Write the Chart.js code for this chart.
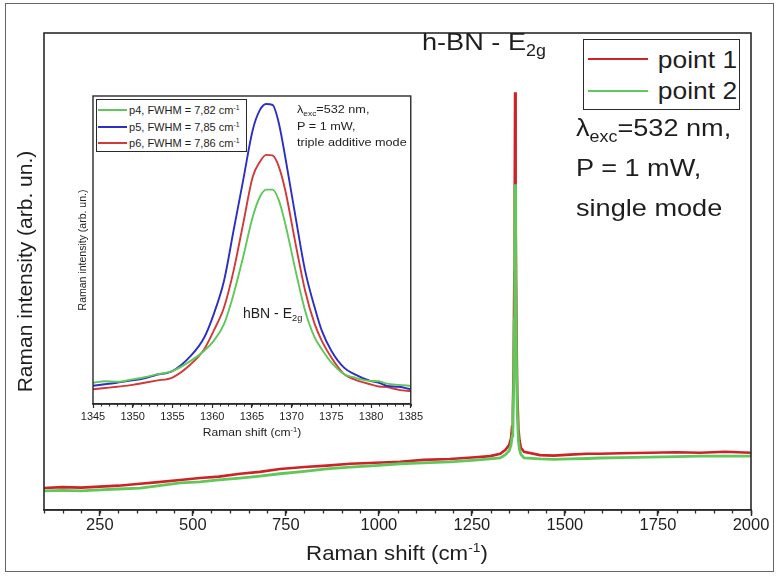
<!DOCTYPE html>
<html>
<head>
<meta charset="utf-8">
<script src="https://cdn.jsdelivr.net/npm/chart.js@4.4.1/dist/chart.umd.min.js"></script>
<style>
  html, body { margin: 0; padding: 0; background: #fff; }
  #wrap { position: relative; width: 779px; height: 576px; background: #fff; overflow: hidden;
          font-family: "Liberation Sans", Arial, sans-serif; color: #1e1e1e; }
  #outer { position: absolute; left: 5px; top: 3px; width: 769px; height: 569px;
           border: 1px solid #666; box-sizing: border-box; }
  canvas { position: absolute; }
  .t { position: absolute; white-space: nowrap; line-height: 1; transform-origin: left center; }
  .t sub { font-size: 0.66em; vertical-align: -0.35em; line-height: 0; }
  .t sup { font-size: 0.62em; vertical-align: 0.6em; line-height: 0; }
  .box { position: absolute; border: 1.5px solid #2a2a2a; box-sizing: border-box; background: #fff; }
  .ln { position: absolute; height: 2px; }
</style>
</head>
<body>
<div id="wrap">
  <div id="outer"></div>
  <canvas id="main" width="779" height="576" style="left:0;top:0"></canvas>
  <canvas id="inset" width="370" height="362" style="left:55px;top:88px"></canvas>

  <!-- main chart texts -->
  <div class="t" style="left:422px;top:30px;font-size:24px;transform:scaleX(1.13)">h-BN - E<sub>2g</sub></div>
  <div class="box" style="left:583px;top:39px;width:157px;height:71px"></div>
  <div class="ln" style="left:588px;top:58px;width:60px;background:#cf2228"></div>
  <div class="ln" style="left:588px;top:90px;width:60px;background:#5ec85a"></div>
  <div class="t" style="right:42px;top:48px;font-size:24px;transform-origin:right center;transform:scaleX(1.1)">point 1</div>
  <div class="t" style="right:42px;top:79px;font-size:24px;transform-origin:right center;transform:scaleX(1.1)">point 2</div>
  <div class="t" style="left:576px;top:116px;font-size:24px;transform:scaleX(1.13)">&lambda;<sub>exc</sub>=532 nm,</div>
  <div class="t" style="left:576px;top:156px;font-size:24px;transform:scaleX(1.13)">P = 1 mW,</div>
  <div class="t" style="left:576px;top:196px;font-size:24px;transform:scaleX(1.13)">single mode</div>
  <div class="t" style="left:197px;width:400px;text-align:center;top:542px;font-size:21px;transform-origin:center center;transform:scaleX(1.06)">Raman shift (cm<sup>-1</sup>)</div>

  <!-- inset texts -->
  <div class="box" style="left:96px;top:99px;width:151px;height:53px;border-width:1.3px"></div>
  <div class="ln" style="left:98px;top:109px;width:29px;background:#5ec85a"></div>
  <div class="ln" style="left:98px;top:126px;width:29px;background:#2b2fc4"></div>
  <div class="ln" style="left:98px;top:142px;width:29px;background:#d23a3a"></div>
  <div class="t" style="left:129px;top:105px;font-size:10.5px;transform:scaleX(1.05)">p4, FWHM = 7,82 cm<sup>-1</sup></div>
  <div class="t" style="left:129px;top:122px;font-size:10.5px;transform:scaleX(1.05)">p5, FWHM = 7,85 cm<sup>-1</sup></div>
  <div class="t" style="left:129px;top:138px;font-size:10.5px;transform:scaleX(1.05)">p6, FWHM = 7,86 cm<sup>-1</sup></div>
  <div class="t" style="left:297px;top:104px;font-size:11.5px;transform:scaleX(1.1)">&lambda;<sub>exc</sub>=532 nm,</div>
  <div class="t" style="left:297px;top:121px;font-size:11.5px;transform:scaleX(1.1)">P = 1 mW,</div>
  <div class="t" style="left:297px;top:137px;font-size:11.5px;transform:scaleX(1.1)">triple additive mode</div>
  <div class="t" style="left:243px;top:306px;font-size:14px">hBN - E<sub>2g</sub></div>
  <div class="t" style="left:152px;width:200px;text-align:center;top:427px;font-size:11.5px;transform-origin:center center;transform:scaleX(1.05)">Raman shift (cm<sup>-1</sup>)</div>
</div>

<script>
// ---- main spectra (single mode) ----
const mainShift = [100, 150, 200, 250, 300, 358, 400, 466, 519, 570, 627, 680, 734, 800, 860, 923, 990,
  1057, 1120, 1191, 1250, 1299, 1326, 1340, 1350, 1355, 1358, 1360, 1362, 1364, 1365, 1366, 1367, 1368,
  1370, 1372, 1375, 1378, 1382, 1390, 1433, 1470, 1514, 1560, 1595, 1650, 1729, 1800, 1863, 1930, 2000];
const point1 = [4.6, 4.8, 4.7, 4.9, 5.1, 5.5, 5.8, 6.3, 6.7, 7.0, 7.6, 8.0, 8.6, 9.0, 9.3, 9.7, 9.9,
  10.1, 10.5, 10.7, 11.0, 11.3, 11.8, 12.6, 13.6, 15.0, 17.5, 21.0, 30.0, 50.0, 66.0, 87.6, 80.0, 62.0,
  36.0, 24.0, 17.0, 14.5, 13.0, 12.2, 11.5, 11.4, 11.6, 11.8, 11.8, 11.9, 12.0, 12.1, 12.0, 12.2, 12.0];
const point2 = [4.0, 4.1, 4.0, 4.2, 4.4, 4.6, 5.0, 5.7, 5.9, 6.3, 6.7, 7.1, 7.6, 8.1, 8.6, 9.0, 9.3,
  9.7, 9.9, 10.1, 10.4, 10.7, 10.9, 11.6, 12.4, 13.6, 15.5, 18.5, 25.0, 40.0, 52.0, 68.3, 62.0, 48.0,
  29.0, 20.0, 14.5, 12.6, 11.6, 10.9, 10.7, 10.6, 10.7, 10.8, 10.9, 11.0, 11.1, 11.2, 11.3, 11.3, 11.3];
const mainTicks = [250, 500, 750, 1000, 1250, 1500, 1750, 2000];

// ---- inset spectra (triple additive mode) ----
const insetShift = [1345, 1346.5, 1348, 1350, 1351.5, 1353, 1355, 1357.3, 1359, 1360.2, 1361.5, 1362.7,
  1363.9, 1365.1, 1366, 1366.8, 1367.6, 1368.4, 1369.2, 1370.5, 1371.7, 1372.9, 1373.8, 1375, 1376.6,
  1377.9, 1379.9, 1381, 1382, 1383.5, 1385];
const p4 = [6.9, 7.4, 7.2, 8.0, 8.7, 9.6, 10.7, 14.0, 17.3, 20.5, 26.0, 35.7, 47.7, 60.7, 67.2, 69.6,
  69.6, 66.1, 58.5, 43.3, 30.3, 21.6, 17.8, 13.5, 9.7, 8.6, 7.5, 7.4, 6.6, 6.2, 5.9];
const p5 = [5.9, 6.4, 6.9, 7.7, 8.3, 9.5, 10.7, 15.6, 21.6, 29.2, 40.1, 56.4, 72.6, 88.9, 95.4, 97.4,
  97.1, 91.1, 80.2, 60.7, 43.3, 31.4, 23.8, 17.3, 11.8, 9.7, 7.5, 6.9, 5.9, 5.6, 4.8];
const p6 = [4.8, 5.2, 5.6, 6.2, 6.9, 7.6, 8.6, 12.9, 17.8, 23.8, 31.4, 43.3, 58.5, 73.7, 78.6, 80.9,
  80.7, 77.0, 69.4, 52.0, 36.8, 26.0, 20.5, 15.1, 9.7, 8.0, 6.4, 5.7, 5.5, 4.6, 4.2];
const insetTicks = [1345, 1350, 1355, 1360, 1365, 1370, 1375, 1380, 1385];

const FONT = '"Liberation Sans", Arial, sans-serif';
const AXIS = '#2a2a2a';

const pairs = (xs, ys) => xs.map((x, i) => ({ x, y: ys[i] }));
const plain = v => String(v);

// short unlabeled ticks between the labeled ones
const minorTicks = {
  id: 'minorTicks',
  afterDraw(chart, args, o) {
    const s = chart.scales.x, ctx = chart.ctx;
    ctx.save();
    ctx.strokeStyle = AXIS;
    ctx.lineWidth = o.width;
    for (let v = o.from; v <= o.to + 1e-9; v += o.step) {
      const px = Math.round(s.getPixelForValue(v)) + 0.5;
      ctx.beginPath();
      ctx.moveTo(px, s.top);
      ctx.lineTo(px, s.top + o.length);
      ctx.stroke();
    }
    ctx.restore();
  }
};

// closed box around the plotting area (+ optional white fill behind everything)
const frame = {
  id: 'frame',
  beforeDraw(chart, args, o) {
    if (o.fill) {
      const ctx = chart.ctx;
      ctx.save();
      ctx.fillStyle = '#fff';
      ctx.fillRect(0, 0, chart.width, chart.height);
      ctx.restore();
    }
  },
  afterDraw(chart, args, o) {
    const { left, top, right, bottom } = chart.chartArea;
    const ctx = chart.ctx;
    ctx.save();
    ctx.strokeStyle = AXIS;
    ctx.lineWidth = o.width;
    ctx.strokeRect(left, top, right - left, bottom - top);
    ctx.restore();
  }
};

const fixedTicks = list => scale => { scale.ticks = list.map(v => ({ value: v })); };

new Chart(document.getElementById('main'), {
  type: 'line',
  data: {
    datasets: [
      { label: 'point 1', data: pairs(mainShift, point1), borderColor: '#cf2228', borderWidth: 2.6,
        pointRadius: 0, tension: 0, order: 1 },
      { label: 'point 2', data: pairs(mainShift, point2), borderColor: '#5ec85a', borderWidth: 2.8,
        pointRadius: 0, tension: 0, order: 0 }
    ]
  },
  options: {
    responsive: false, animation: false, devicePixelRatio: 1,
    layout: { padding: { left: 14, right: 28, top: 33, bottom: 0 } },
    plugins: {
      legend: { display: false }, tooltip: { enabled: false },
      minorTicks: { from: 100, to: 2000, step: 50, length: 3.5, width: 1.3 },
      frame: { width: 1.6, fill: false }
    },
    scales: {
      x: {
        type: 'linear', min: 100, max: 2000,
        afterBuildTicks: fixedTicks(mainTicks),
        afterFit: s => { s.height = 66; },
        grid: { display: true, drawOnChartArea: false, tickLength: 6, tickWidth: 1.5, tickColor: AXIS },
        border: { display: true, color: AXIS, width: 1.6 },
        ticks: { font: { family: FONT, size: 16.5 }, color: '#1e1e1e', padding: 0, maxRotation: 0,
                 autoSkip: false, callback: plain }
      },
      y: {
        min: 0, max: 100,
        afterFit: s => { s.width = 30; },
        ticks: { display: false }, grid: { display: false }, border: { display: false },
        title: { display: true, text: 'Raman intensity (arb. un.)', font: { family: FONT, size: 21 },
                 color: '#1e1e1e', padding: 0 }
      }
    }
  },
  plugins: [minorTicks, frame]
});

new Chart(document.getElementById('inset'), {
  type: 'line',
  data: {
    datasets: [
      { label: 'p4', data: pairs(insetShift, p4), borderColor: '#5ec85a', borderWidth: 1.9,
        pointRadius: 0, cubicInterpolationMode: 'monotone' },
      { label: 'p5', data: pairs(insetShift, p5), borderColor: '#2b2fc4', borderWidth: 1.9,
        pointRadius: 0, cubicInterpolationMode: 'monotone' },
      { label: 'p6', data: pairs(insetShift, p6), borderColor: '#d23a3a', borderWidth: 1.9,
        pointRadius: 0, cubicInterpolationMode: 'monotone' }
    ]
  },
  options: {
    responsive: false, animation: false, devicePixelRatio: 1,
    layout: { padding: { left: 22, right: 7, top: 8, bottom: 0 } },
    plugins: {
      legend: { display: false }, tooltip: { enabled: false },
      minorTicks: { from: 1345, to: 1385, step: 1, length: 2.5, width: 1 },
      frame: { width: 1.4, fill: true }
    },
    scales: {
      x: {
        type: 'linear', min: 1345, max: 1385,
        afterBuildTicks: fixedTicks(insetTicks),
        afterFit: s => { s.height = 46; },
        grid: { display: true, drawOnChartArea: false, tickLength: 4, tickWidth: 1.2, tickColor: AXIS },
        border: { display: true, color: AXIS, width: 1.4 },
        ticks: { font: { family: FONT, size: 11 }, color: '#1e1e1e', padding: 2, maxRotation: 0,
                 autoSkip: false, callback: plain }
      },
      y: {
        min: 0, max: 100,
        afterFit: s => { s.width = 16; },
        ticks: { display: false }, grid: { display: false }, border: { display: false },
        title: { display: true, text: 'Raman intensity (arb. un.)', font: { family: FONT, size: 10.5 },
                 color: '#1e1e1e', padding: 0 }
      }
    }
  },
  plugins: [minorTicks, frame]
});
</script>
</body>
</html>
